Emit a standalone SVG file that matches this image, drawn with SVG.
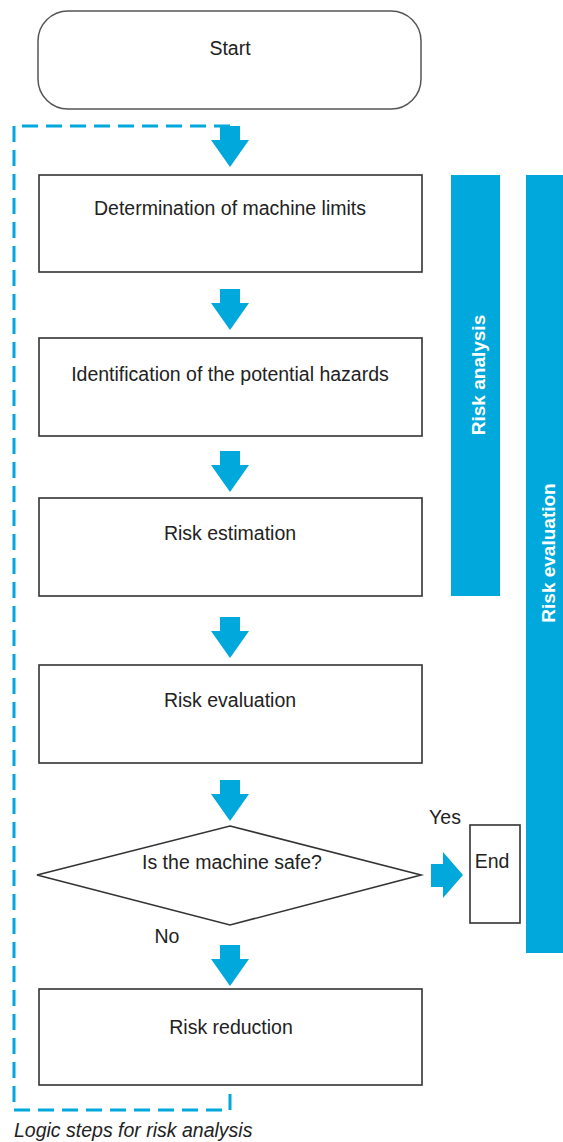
<svg xmlns="http://www.w3.org/2000/svg" width="563" height="1142" viewBox="0 0 563 1142">
<style>
.box{fill:#fff;stroke:#333;stroke-width:1.6}
.lbl{font-family:"Liberation Sans",Arial,sans-serif;font-size:19.5px;fill:#222;text-anchor:middle}
.side{font-family:"Liberation Sans",Arial,sans-serif;font-size:19px;font-weight:bold;fill:#fff;text-anchor:middle}
.blue{fill:#00A8DC}
</style>
<defs>
<path id="down" d="M220,0 H240 V14 H249 L230,41 L211,14 H220 Z" fill="#00A8DC"/>
</defs>
<rect width="563" height="1142" fill="#fff"/>
<g id="bars">
<rect class="blue" x="451" y="175" width="49" height="421"/>
<text class="side" transform="translate(485,375) rotate(-90)">Risk analysis</text>
<rect class="blue" x="526" y="175" width="37" height="778"/>
<text class="side" transform="translate(555,553) rotate(-90)">Risk evaluation</text>
</g>
<g id="connectors">
<path d="M230,126 H14 V1110 H230 V1090" fill="none" stroke="#00A8DC" stroke-width="3" stroke-dasharray="16 8"/>
<use href="#down" y="126"/>
<use href="#down" y="289"/>
<use href="#down" y="451"/>
<use href="#down" y="617"/>
<use href="#down" y="780"/>
<use href="#down" y="945"/>
<path d="M431,864 H443 V852 L463,875 L443,898 V887 H431 Z" fill="#00A8DC"/>
<text class="lbl" x="445" y="824">Yes</text>
<text class="lbl" x="167" y="943">No</text>
</g>
<g id="start">
<rect x="38" y="11" width="383" height="98" rx="30" fill="#fff" stroke="#555" stroke-width="1.5"/>
<text class="lbl" x="230" y="55">Start</text>
</g>
<g id="limits">
<rect class="box" x="39" y="175" width="383" height="97"/>
<text class="lbl" x="230" y="215">Determination of machine limits</text>
</g>
<g id="hazards">
<rect class="box" x="39" y="338" width="383" height="98"/>
<text class="lbl" x="230" y="381">Identification of the potential hazards</text>
</g>
<g id="estimation">
<rect class="box" x="39" y="498" width="383" height="98"/>
<text class="lbl" x="230" y="540">Risk estimation</text>
</g>
<g id="evaluation">
<rect class="box" x="39" y="665" width="383" height="98"/>
<text class="lbl" x="230" y="707">Risk evaluation</text>
</g>
<g id="decision">
<polygon points="230,826 421,875 230,925 37,875" fill="#fff" stroke="#333" stroke-width="1.6"/>
<text class="lbl" x="232" y="869">Is the machine safe?</text>
</g>
<g id="end">
<rect class="box" x="470" y="825" width="50" height="98"/>
<text class="lbl" x="492" y="868">End</text>
</g>
<g id="reduction">
<rect class="box" x="39" y="989" width="383" height="96"/>
<text class="lbl" x="231" y="1034">Risk reduction</text>
</g>
<text x="14" y="1137" font-family="'Liberation Sans',Arial,sans-serif" font-size="19.5" font-style="italic" fill="#222">Logic steps for risk analysis</text>
</svg>
